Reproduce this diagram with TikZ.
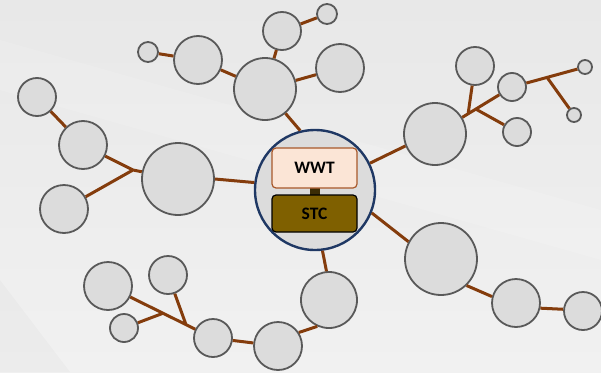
\documentclass[tikz,border=0pt]{standalone}
\usepackage{fontspec}
\setmainfont{Carlito}
\usetikzlibrary{calc}
\definecolor{bgtop}{HTML}{E8E8E8}
\definecolor{bgbot}{HTML}{F1F1F1}
\definecolor{bubfill}{HTML}{DCDCDC}
\definecolor{bubline}{HTML}{595959}
\definecolor{hubline}{HTML}{1F3864}
\definecolor{link}{HTML}{843C0C}
\definecolor{wwtfill}{HTML}{FBE5D6}
\definecolor{wwtline}{HTML}{A8582A}
\definecolor{stcfill}{HTML}{7F6000}
\definecolor{stem}{HTML}{3B2C05}
\tikzset{
  bubble/.style={circle, draw=bubline, fill=bubfill, line width=1.8pt,
    inner sep=0pt, minimum size=#1},
  hubbub/.style={circle, draw=hubline, fill=bubfill, line width=2.4pt,
    inner sep=0pt, minimum size=120pt},
  linkline/.style={draw=link, line width=3pt},
  labelbox/.style={rounded corners=4pt, line width=1.2pt, minimum width=85pt,
    minimum height=#1, inner sep=0pt, font=\fontsize{17.5}{17.5}\selectfont\bfseries},
}
\begin{document}
\begin{tikzpicture}[x=1pt,y=-1pt]
% backdrop
\shade[top color=bgtop, bottom color=bgbot] (0,0) rectangle (601,372);
\fill[white, opacity=0.12] (0,40) -- (601,210) -- (601,260) -- (0,90) -- cycle;
\fill[black, opacity=0.02] (0,280) -- (70,372) -- (0,372) -- cycle;
\useasboundingbox (0,0) rectangle (601,372);

% hub
\node[hubbub] (hub) at (315,190) {};

% upper cluster
\node[bubble=62pt] (G) at (265,89) {};
\node[bubble=48pt] (F) at (198,60) {};
\node[bubble=20pt] (E) at (148,52) {};
\node[bubble=38pt] (H) at (282,31) {};
\node[bubble=20pt] (X) at (327,14) {};
\node[bubble=48pt] (Y) at (340,68) {};

% left cluster
\node[bubble=72pt] (D) at (178,179) {};
\node[bubble=48pt] (B) at (83,145) {};
\node[bubble=48pt] (C) at (64,209) {};
\node[bubble=38pt] (A) at (37,97) {};
\coordinate (j1) at (133,170);

% lower-left cluster
\node[bubble=56pt] (N) at (329,300) {};
\node[bubble=48pt] (M) at (278,346) {};
\node[bubble=38pt] (L) at (213,338) {};
\node[bubble=48pt] (I) at (108,286) {};
\node[bubble=38pt] (J) at (168,275) {};
\node[bubble=28pt] (K) at (124,328) {};
\coordinate (j3) at ($(I)!0.524!(L)$);
\coordinate (j2) at ($(I)!0.743!(L)$);

% lower-right cluster
\node[bubble=72pt] (O) at (441,259) {};
\node[bubble=48pt] (P) at (516,303) {};
\node[bubble=38pt] (Q) at (583,311) {};

% upper-right cluster
\node[bubble=62pt] (R) at (435,134) {};
\node[bubble=38pt] (S) at (475,66) {};
\node[bubble=28pt] (T) at (512,87) {};
\node[bubble=28pt] (U) at (517,132) {};
\node[bubble=14pt] (V) at (585,67) {};
\node[bubble=14pt] (W) at (574,115) {};
\coordinate (ja) at ($(R)!0.43!(T)$);
\coordinate (jb) at ($(R)!0.53!(T)$);
\coordinate (j5) at ($(T)!0.48!(V)$);

% connectors
\path[linkline]
  (hub.104) -- (G.-50)
  (G) -- (F)  (F) -- (E)  (G) -- (H)  (H) -- (X)  (G) -- (Y)
  (hub.173) -- (D.0)
  (D) -- (j1)  (j1) -- (B)  (j1) -- (C)  (B) -- (A)
  (hub.-83) -- (N.95)
  (N.246) -- (M.33)  (M) -- (L)  (L) -- (I)  (K) -- (j3)  (J) -- (j2)
  (hub.-22) -- (O.152)
  (O.-46) -- (P.165)  (P.-12) -- (Q.175)
  (hub.26) -- (R.202)
  (R) -- (T)  (S) -- (ja)  (jb) -- (U)  (T) -- (V)  (j5) -- (W);

% labels inside the hub
\fill[stem] (309.5,187) rectangle (319.5,196);
\node[labelbox=40pt, draw=wwtline, fill=wwtfill] (wwt) at (314.5,168) {WWT};
\node[labelbox=37pt, draw=black, fill=stcfill] (stc) at (314.5,213.5) {STC};
\end{tikzpicture}
\end{document}
